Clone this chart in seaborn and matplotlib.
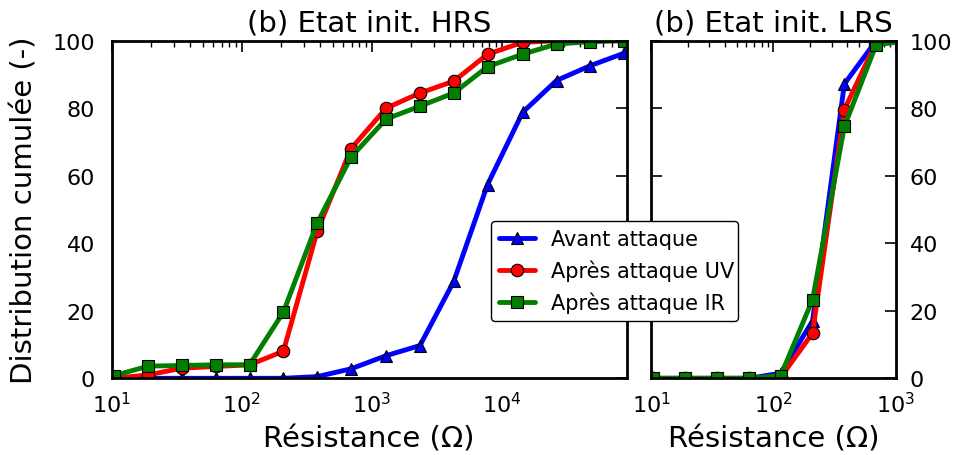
import numpy as np
import pandas as pd
import matplotlib
matplotlib.use("Agg")
import matplotlib.pyplot as plt
import seaborn as sns

# log10 of resistance bin centres
logR = [1.02, 1.28, 1.54, 1.80, 2.06, 2.32, 2.58, 2.84, 3.11, 3.37, 3.63, 3.89, 4.16, 4.42, 4.68, 4.94]

hrs_avant = [0, 0, 0, 0, 0, 0, 0.5, 2.8, 6.7, 9.7, 28.7, 57.4, 78.8, 88.2, 92.6, 96.3]
hrs_uv    = [0, 1, 3, 3.5, 4, 8, 43.5, 68, 80, 84.5, 88, 96, 99.5, 100, 100, 100]
hrs_ir    = [0.8, 3.6, 3.8, 4.0, 4.0, 19.6, 46, 65.5, 76.8, 80.6, 84.5, 92.3, 96, 99, 99.7, 100]

lrs_avant = [0, 0, 0, 0, 1.5, 17, 87.2, 100, 100, 100, 100, 100, 100, 100, 100, 100]
lrs_uv    = [0, 0, 0, 0, 0.3, 13.4, 79.6, 99.5, 100, 100, 100, 100, 100, 100, 100, 100]
lrs_ir    = [0, 0, 0, 0, 0.8, 23.3, 74.6, 98.8, 100, 100, 100, 100, 100, 100, 100, 100]

labels = ["Avant attaque", "Après attaque UV", "Après attaque IR"]
titles = ["(b) Etat init. HRS", "(b) Etat init. LRS"]
xlabel = "Résistance (Ω)"
ylabel = "Distribution cumulée (-)"

R = 10 ** np.array(logR)

sns.set_style("white")
plt.rcParams.update({
    "font.family": ["DejaVu Sans"],
    "text.color": "black", "axes.labelcolor": "black",
    "xtick.direction": "in", "ytick.direction": "in",
    "xtick.top": True, "ytick.right": True,
    "xtick.major.size": 8, "ytick.major.size": 8,
    "xtick.minor.size": 4, "ytick.minor.size": 4,
    "xtick.major.width": 1.2, "ytick.major.width": 1.2,
    "xtick.minor.width": 1.0,
    "axes.linewidth": 2.0,
    "axes.edgecolor": "black",
    "xtick.color": "black", "ytick.color": "black",
    "xtick.labelcolor": "black", "ytick.labelcolor": "black",
    "xtick.labelsize": 16, "ytick.labelsize": 16,
    "mathtext.default": "regular",
})

fig = plt.figure(figsize=(9.57, 4.56), dpi=100)
ax1 = fig.add_axes([0.1167, 0.1682, 0.6549 - 0.1167, 0.9086 - 0.1682])
ax2 = fig.add_axes([0.6803, 0.1682, 0.9360 - 0.6803, 0.9086 - 0.1682])

colors = ["#0000ff", "#ff0000", "#007f00"]
markers = ["^", "o", "s"]

def draw(ax, series):
    for vals, lab, c, m in zip(series, labels, colors, markers):
        df = pd.DataFrame({"R": R, "F": vals})
        sns.lineplot(data=df, x="R", y="F", ax=ax, color=c, marker=m,
                     markersize=9, markeredgecolor="black", markeredgewidth=0.8,
                     linewidth=3.5, label=lab, legend=False)

draw(ax1, [hrs_avant, hrs_uv, hrs_ir])
draw(ax2, [lrs_avant, lrs_uv, lrs_ir])

for ax in (ax1, ax2):
    ax.set_xscale("log")
    ax.set_ylim(0, 100)
    ax.set_yticks([0, 20, 40, 60, 80, 100])
    ax.set_xlabel(xlabel, fontsize=21, color="black", labelpad=6)
    ax.tick_params(which="both", top=True, right=True, direction="in")
    ax.tick_params(axis="x", which="major", pad=9)
    for s in ax.spines.values():
        s.set_linewidth(2.0)
        s.set_color("black")

ax1.set_xlim(10, 10 ** 4.96)
ax2.set_xlim(10, 1000)
ax1.set_title(titles[0], fontsize=21, pad=7, color="black")
ax2.set_title(titles[1], fontsize=21, pad=7, color="black")
ax1.set_ylabel(ylabel, fontsize=21, color="black", labelpad=10)
ax1.tick_params(axis="y", pad=12)
ax2.set_ylabel("")
ax2.yaxis.tick_right()
ax2.tick_params(axis="y", which="both", left=True, right=True,
                labelleft=False, labelright=True, pad=10)

handles, labs = ax1.get_legend_handles_labels()
leg = fig.legend(handles, labs, loc="lower left",
                 bbox_to_anchor=(0.513, 0.293, 0.258, 0.222), mode="expand",
                 fontsize=15, frameon=True, fancybox=True, framealpha=1,
                 edgecolor="black", handlelength=1.7, borderaxespad=0.0,
                 labelspacing=0.5, handletextpad=0.8)
leg.get_frame().set_linewidth(1.0)

fig.savefig("out.png", dpi=100)
